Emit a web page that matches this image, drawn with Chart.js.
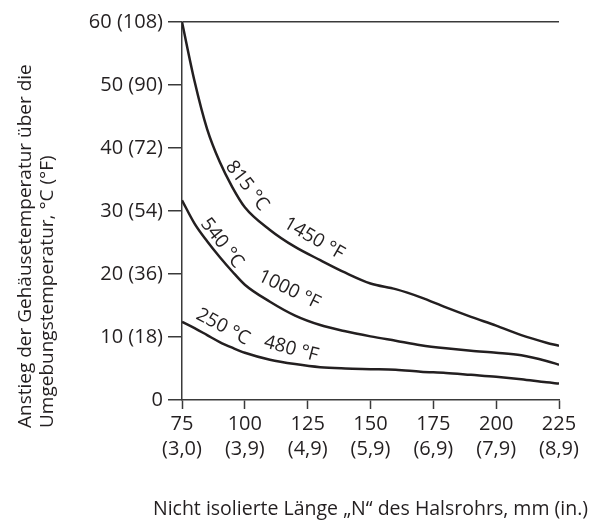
<!DOCTYPE html>
<html><head><meta charset="utf-8">
<script src="https://cdn.jsdelivr.net/npm/chart.js@4"></script>
<style>html,body{margin:0;padding:0;background:#fff}#wrap{width:595px;height:523px}</style>
</head><body><div id="wrap"><canvas id="c" width="595" height="523"></canvas></div>
<script>
const lengthsMm = [75,80,85,90,95,100,110,120,130,140,150,160,170,180,190,200,210,220,225];
const rise815 = [60,50.6,43.0,37.8,33.8,30.6,27.0,24.3,22.2,20.2,18.5,17.6,16.3,14.7,13.2,11.8,10.3,9.1,8.6];
const rise540 = [31.7,28.0,25.2,22.7,20.4,18.3,15.6,13.4,11.9,10.9,10.1,9.4,8.7,8.2,7.8,7.5,7.1,6.2,5.6];
const rise250 = [12.4,11.4,10.3,9.2,8.3,7.5,6.4,5.7,5.2,5.0,4.9,4.8,4.5,4.3,4.0,3.7,3.3,2.8,2.6];

const xTickValues = [75,100,125,150,175,200,225];
const xTickLabels = [['75','(3,0)'],['100','(3,9)'],['125','(4,9)'],['150','(5,9)'],['175','(6,9)'],['200','(7,9)'],['225','(8,9)']];
const yTickValues = [0,10,20,30,40,50,60];
const yTickLabels = ['0','10 (18)','20 (36)','30 (54)','40 (72)','50 (90)','60 (108)'];

const curveLabels = ['815 °C','1450 °F','540 °C','1000 °F','250 °C','480 °F'];
const curveLabelX = [100.9,127.5,90.9,117.6,91.3,118.4];
const curveLabelY = [34.0,25.6,24.9,17.5,11.6,8.1];
const curveLabelAngle = [52,30,52,26,28,15];

const yTitleLines = ['Anstieg der Gehäusetemperatur über die','Umgebungstemperatur, °C (°F)'];
const xTitle = 'Nicht isolierte Länge „N“ des Halsrohrs, mm (in.)';

const FONT = '"Open Sans", "Noto Sans", sans-serif';
const INK = '#231f20';
const AXIS = '#3a3a3a';

function pts(ys){ return lengthsMm.map((x,i)=>({x:x,y:ys[i]})); }
function ds(ys){
  return {data:pts(ys), borderColor:INK, borderWidth:2.5, pointRadius:0, fill:false,
          cubicInterpolationMode:'monotone', showLine:true};
}

const textPlugin = {
  id:'texts',
  afterDraw(chart){
    const ctx = chart.ctx, xs = chart.scales.x, ys = chart.scales.y, ca = chart.chartArea;
    ctx.save();
    ctx.fillStyle = INK;
    ctx.font = '19px ' + FONT;
    ctx.textAlign = 'center'; ctx.textBaseline = 'middle';
    curveLabels.forEach((t,i)=>{
      ctx.save();
      ctx.translate(xs.getPixelForValue(curveLabelX[i]), ys.getPixelForValue(curveLabelY[i]));
      ctx.rotate(curveLabelAngle[i]*Math.PI/180);
      ctx.fillText(t,0,0);
      ctx.restore();
    });
    ctx.textAlign = 'left'; ctx.textBaseline = 'alphabetic';
    const yBase = [31,53];
    yTitleLines.forEach((t,i)=>{
      ctx.save();
      ctx.translate(yBase[i], 428);
      ctx.rotate(-Math.PI/2);
      ctx.fillText(t,0,0);
      ctx.restore();
    });
    ctx.font = '19.5px ' + FONT;
    ctx.textAlign = 'center';
    ctx.fillText(xTitle, (ca.left+ca.right)/2, 515);
    ctx.restore();
  }
};

new Chart(document.getElementById('c'), {
  type:'scatter',
  data:{datasets:[ds(rise815), ds(rise540), ds(rise250)]},
  options:{
    responsive:false, animation:false, devicePixelRatio:1,
    layout:{padding:{left:0,right:36,top:22,bottom:0}},
    plugins:{legend:{display:false}, tooltip:{enabled:false}},
    scales:{
      x:{
        type:'linear', min:75, max:225,
        afterBuildTicks(s){ s.ticks = xTickValues.map(v=>({value:v})); },
        afterFit(s){ s.height = 123; },
        ticks:{ color:INK, font:{family:FONT,size:20,lineHeight:1.25}, padding:3, maxRotation:0, autoSkip:false,
          callback:(v)=>{ const i = xTickValues.indexOf(v); return i>=0 ? xTickLabels[i] : ''; } },
        grid:{ drawOnChartArea:false, drawTicks:true, tickLength:9, tickColor:AXIS, tickWidth:1.5 },
        border:{ display:true, color:AXIS, width:1.5 }
      },
      y:{
        type:'linear', min:0, max:60,
        afterBuildTicks(s){ s.ticks = yTickValues.map(v=>({value:v})); },
        afterFit(s){ s.width = 182; },
        ticks:{ color:INK, font:{family:FONT,size:20}, padding:5, autoSkip:false,
          callback:(v)=>{ const i = yTickValues.indexOf(v); return i>=0 ? yTickLabels[i] : ''; } },
        grid:{ drawOnChartArea:true, drawTicks:true, tickLength:14,
          color:(c)=> (c.tick && c.tick.value===60) ? AXIS : 'rgba(0,0,0,0)',
          lineWidth:1.5, tickColor:AXIS, tickWidth:1.5 },
        border:{ display:true, color:AXIS, width:1.5 }
      }
    }
  },
  plugins:[textPlugin]
});
</script></body></html>
